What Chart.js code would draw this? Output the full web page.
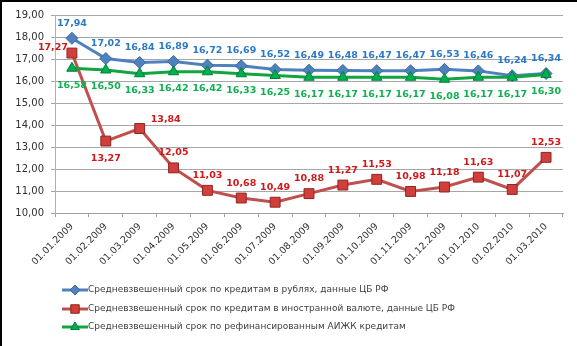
<!DOCTYPE html>
<html>
<head>
<meta charset="utf-8">
<script src="https://cdn.jsdelivr.net/npm/chart.js@4.4.0/dist/chart.umd.min.js"></script>
<style>
  body { margin: 0; background: #fff; }
  #wrap { width: 577px; height: 346px; box-sizing: border-box; border-left: 2px solid #000; border-top: 2px solid #000; }
  canvas { display: block; }
</style>
</head>
<body>
<div id="wrap"><canvas id="chart" width="575" height="344"></canvas></div>
<script>
// данные
const dates = ["01.01.2009", "01.02.2009", "01.03.2009", "01.04.2009", "01.05.2009", "01.06.2009", "01.07.2009",
  "01.08.2009", "01.09.2009", "01.10.2009", "01.11.2009", "01.12.2009", "01.01.2010", "01.02.2010", "01.03.2010"];
const rubli = [17.94, 17.02, 16.84, 16.89, 16.72, 16.69, 16.52, 16.49, 16.48, 16.47, 16.47, 16.53, 16.46, 16.24, 16.34];
const valyuta = [17.27, 13.27, 13.84, 12.05, 11.03, 10.68, 10.49, 10.88, 11.27, 11.53, 10.98, 11.18, 11.63, 11.07, 12.53];
const aizhk = [16.58, 16.50, 16.33, 16.42, 16.42, 16.33, 16.25, 16.17, 16.17, 16.17, 16.17, 16.08, 16.17, 16.17, 16.30];
const yMin = 10, yMax = 19, yStep = 1;
const names = [
  "Средневзвешенный срок по кредитам в рублях, данные ЦБ РФ",
  "Средневзвешенный срок по кредитам в иностранной валюте, данные ЦБ РФ",
  "Средневзвешенный срок по рефинансированным АИЖК кредитам"
];

// где ставить подписи точек
const posRubli = dates.map(() => "above");
const posAizhk = dates.map(() => "below");
const posValyuta = ["left", "below", "right"].concat(dates.slice(3).map(() => "above"));

const fmt = v => v.toFixed(2).replace(".", ",");

const pointLabels = {
  id: "pointLabels",
  afterDatasetsDraw(chart) {
    const ctx = chart.ctx;
    ctx.save();
    ctx.font = 'bold 9.5px "DejaVu Sans"';
    ctx.textBaseline = "middle";
    chart.data.datasets.forEach((ds, di) => {
      const meta = chart.getDatasetMeta(di);
      ctx.fillStyle = ds.labelColor;
      meta.data.forEach((pt, i) => {
        const txt = fmt(ds.data[i]);
        const pos = ds.labelPos[i];
        if (pos === "left") {
          ctx.textAlign = "right";
          ctx.fillText(txt, pt.x - 4, pt.y - 6);
        } else if (pos === "right") {
          ctx.textAlign = "left";
          ctx.fillText(txt, pt.x + 11, pt.y - 9);
        } else if (pos === "below") {
          ctx.textAlign = "center";
          ctx.fillText(txt, pt.x, pt.y + 17);
        } else {
          ctx.textAlign = "center";
          ctx.fillText(txt, pt.x, pt.y - 15);
        }
      });
    });
    ctx.restore();
  }
};

const legendBelow = {
  id: "legendBelow",
  afterDraw(chart) {
    const ctx = chart.ctx;
    const rows = [288, 307, 325];
    ctx.save();
    chart.data.datasets.forEach((ds, i) => {
      const y = rows[i];
      ctx.strokeStyle = ds.borderColor;
      ctx.lineWidth = 3;
      ctx.beginPath();
      ctx.moveTo(60, y);
      ctx.lineTo(86, y);
      ctx.stroke();
      ctx.fillStyle = ds.pointBackgroundColor;
      ctx.strokeStyle = ds.pointBorderColor;
      ctx.lineWidth = 1;
      Chart.helpers.drawPoint(ctx, { pointStyle: ds.pointStyle, radius: ds.pointRadius - 1, rotation: 0, borderWidth: 1 }, 73, y);
      ctx.fillStyle = "#404040";
      ctx.font = '9px "DejaVu Sans"';
      ctx.textAlign = "left";
      ctx.textBaseline = "middle";
      ctx.fillText(names[i], 86, y);
    });
    ctx.restore();
  }
};

new Chart(document.getElementById("chart"), {
  type: "line",
  data: {
    labels: dates,
    datasets: [
      {
        label: names[0], data: rubli, order: 2,
        borderColor: "#4f81bd", borderWidth: 3,
        pointStyle: "rectRot", pointRadius: 6,
        pointBackgroundColor: "#4f81bd", pointBorderColor: "#3b6aa6", pointBorderWidth: 1,
        labelColor: "#2a78c8", labelPos: posRubli
      },
      {
        label: names[1], data: valyuta, order: 1,
        borderColor: "#c0504d", borderWidth: 3,
        pointStyle: "rect", pointRadius: 7,
        pointBackgroundColor: "#d23f3a", pointBorderColor: "#8c2525", pointBorderWidth: 1,
        labelColor: "#d01818", labelPos: posValyuta
      },
      {
        label: names[2], data: aizhk, order: 0,
        borderColor: "#12a43f", borderWidth: 3,
        pointStyle: "triangle", pointRadius: 6,
        pointBackgroundColor: "#00b050", pointBorderColor: "#00803a", pointBorderWidth: 1,
        labelColor: "#10b050", labelPos: posAizhk
      }
    ]
  },
  options: {
    responsive: false,
    animation: false,
    layout: { padding: { left: 0, right: 14, top: 11, bottom: 77 } },
    plugins: { legend: { display: false }, tooltip: { enabled: false } },
    elements: { line: { tension: 0 } },
    scales: {
      x: {
        offset: true,
        afterFit: s => { s.height = 56; },
        grid: { offset: true, drawOnChartArea: false, drawTicks: true, tickLength: 4, color: "#a0a0a0" },
        border: { color: "#a0a0a0" },
        ticks: { minRotation: 45, maxRotation: 45, autoSkip: false, padding: 4, color: "#303030", font: { family: "DejaVu Sans", size: 9.5 } }
      },
      y: {
        min: yMin, max: yMax,
        afterFit: s => { s.width = 53; },
        grid: { color: "#a6a6a6", tickLength: 4 },
        border: { color: "#b0b0b0" },
        ticks: { stepSize: yStep, padding: 7, color: "#303030", font: { family: "DejaVu Sans", size: 10 }, callback: v => fmt(v) }
      }
    }
  },
  plugins: [pointLabels, legendBelow]
});
</script>
</body>
</html>
